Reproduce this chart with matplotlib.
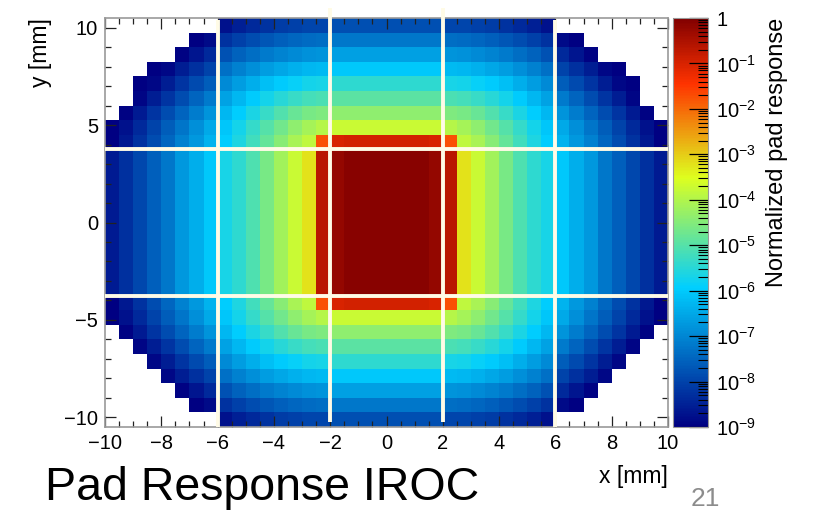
import numpy as np
import matplotlib
matplotlib.use('Agg')
import matplotlib.pyplot as plt
from matplotlib.colors import LinearSegmentedColormap, LogNorm
from matplotlib.ticker import LogLocator, NullFormatter

plt.rcParams['font.family'] = ['Liberation Sans', 'DejaVu Sans']
plt.rcParams['mathtext.fontset'] = 'custom'
plt.rcParams['mathtext.rm'] = 'Liberation Sans'
plt.rcParams['mathtext.default'] = 'regular'

nan = np.nan

# log10 of the normalized pad response for one quadrant (x >= 0, y >= 0).
# rows: y bins of 0.75 mm going up from y = 0, columns: x bins of 0.5 mm going right from x = 0
resp_quadrant = [
    [-0.08, -0.08, -0.08, -0.22, -0.66, -3.20, -3.75, -4.18, -4.63, -5.07, -5.42, -5.68, -6.03, -6.40, -6.75, -7.23, -7.58, -7.94, -8.29, -8.59],
    [-0.08, -0.08, -0.08, -0.22, -0.66, -3.20, -3.75, -4.18, -4.63, -5.07, -5.42, -5.68, -6.03, -6.40, -6.75, -7.23, -7.58, -7.94, -8.29, -8.59],
    [-0.08, -0.08, -0.08, -0.22, -0.66, -3.20, -3.75, -4.18, -4.63, -5.07, -5.42, -5.68, -6.03, -6.40, -6.75, -7.23, -7.58, -7.94, -8.29, -8.59],
    [-0.08, -0.08, -0.08, -0.22, -0.66, -3.20, -3.75, -4.18, -4.63, -5.07, -5.42, -5.68, -6.03, -6.40, -6.75, -7.23, -7.58, -7.94, -8.29, -8.59],
    [-0.08, -0.08, -0.08, -0.22, -0.66, -3.20, -3.75, -4.18, -4.63, -5.07, -5.42, -5.68, -6.03, -6.40, -6.75, -7.23, -7.58, -7.94, -8.29, -8.59],
    [-0.94, -0.94, -0.94, -1.00, -1.74, -3.84, -4.09, -4.46, -4.83, -5.21, -5.59, -5.96, -6.34, -6.72, -7.10, -7.48, -7.86, -8.24, -8.62, -9.00],
    [-3.75, -3.75, -3.75, -3.75, -3.97, -4.13, -4.38, -4.68, -5.01, -5.36, -5.71, -6.08, -6.50, -6.88, -7.25, -7.62, -8.00, -8.37, -8.74, -9.10],
    [-4.37, -4.37, -4.37, -4.37, -4.54, -4.63, -4.81, -5.05, -5.33, -5.63, -5.95, -6.29, -6.80, -7.15, -7.50, -7.86, -8.22, -8.58, -8.95, nan],
    [-4.95, -4.95, -4.95, -4.95, -5.10, -5.17, -5.31, -5.50, -5.73, -5.99, -6.28, -6.58, -7.20, -7.52, -7.86, -8.20, -8.55, -8.90, nan, nan],
    [-5.42, -5.42, -5.42, -5.42, -5.67, -5.73, -5.84, -5.99, -6.18, -6.41, -6.66, -6.93, -7.60, -7.90, -8.22, -8.55, -8.88, -9.20, nan, nan],
    [-6.03, -6.03, -6.03, -6.03, -6.24, -6.29, -6.38, -6.51, -6.67, -6.87, -7.09, -7.34, -8.00, -8.28, -8.57, -8.88, -9.19, nan, nan, nan],
    [-6.63, -6.63, -6.63, -6.63, -6.81, -6.85, -6.93, -7.04, -7.18, -7.35, -7.55, -7.77, -8.40, -8.67, -8.94, nan, nan, nan, nan, nan],
    [-7.23, -7.23, -7.23, -7.23, -7.38, -7.41, -7.48, -7.58, -7.70, -7.86, -8.04, -8.24, -8.85, -9.10, nan, nan, nan, nan, nan, nan],
    [-7.82, -7.82, -7.82, -7.82, -7.95, -7.98, -8.04, -8.12, -8.24, -8.38, -8.54, -8.72, nan, nan, nan, nan, nan, nan, nan, nan],
]

# upper / lower reach (|y| in mm) of the eight outer columns, from x = -10 inward
outer_top = [5.25, 6.0, 7.5, 8.25, 8.25, 9.0, 9.75, 9.75]
outer_bottom = [5.25, 6.0, 6.75, 7.5, 8.25, 9.0, 9.75, 9.75]

# pad boundaries (4 mm x 7.5 mm pads)
pad_x_inner = [-2, 2]
pad_x_outer = [-6, 6]
pad_y = [-3.75, 3.75]

q = np.array(resp_quadrant)
full = np.vstack([np.hstack([q[::-1, ::-1], q[::-1]]),
                  np.hstack([q[:, ::-1], q])])

x_edges = np.linspace(-10, 10, 41)
y_edges = np.linspace(-10.5, 10.5, 29)
xc = 0.5 * (x_edges[1:] + x_edges[:-1])
yc = 0.5 * (y_edges[1:] + y_edges[:-1])

top = np.full(40, 10.5)
bot = np.full(40, 10.5)
top[:8] = outer_top
top[32:] = outer_top[::-1]
bot[:8] = outer_bottom
bot[32:] = outer_bottom[::-1]
mask = (yc[:, None] > top[None, :]) | (yc[:, None] < -bot[None, :])
full[mask] = nan
z = 10.0 ** full

# ROOT-like rainbow palette
stops = [0.00, 0.34, 0.61, 0.84, 1.00]
red = [0.00, 0.00, 0.87, 1.00, 0.51]
green = [0.00, 0.81, 1.00, 0.20, 0.00]
blue = [0.51, 1.00, 0.12, 0.00, 0.00]
cmap = LinearSegmentedColormap('root_rainbow', {
    'red': [(s, c, c) for s, c in zip(stops, red)],
    'green': [(s, c, c) for s, c in zip(stops, green)],
    'blue': [(s, c, c) for s, c in zip(stops, blue)],
}, N=256)

fig = plt.figure(figsize=(8.15, 5.12), dpi=100)
ax = fig.add_axes([105 / 815, 85 / 512, 563 / 815, 409 / 512])
mesh = ax.pcolormesh(x_edges, y_edges, z, cmap=cmap, norm=LogNorm(1e-9, 1),
                     shading='flat', edgecolors='none')
ax.set_xlim(-10, 10)
ax.set_ylim(-10.5, 10.5)

ax.set_xticks(np.arange(-10, 11, 2))
ax.set_xticks(np.arange(-10, 10.1, 0.5), minor=True)
ax.set_yticks([-10, -5, 0, 5, 10])
ax.set_yticks(np.arange(-10, 10.1, 1), minor=True)
ax.tick_params(which='both', direction='in', top=True, right=True,
               labelsize=14.5, color='#222222')
ax.tick_params(which='major', length=8, width=0.9, pad=5)
ax.tick_params(which='minor', length=4.5, width=0.9)
for sp in ax.spines.values():
    sp.set_color('#999999')
    sp.set_linewidth(1.2)

# pad outlines
line_col = '#fffbe6'
for x0 in pad_x_inner:
    ax.plot([x0, x0], [-10.25, 11.0], color=line_col, lw=2.8,
            clip_on=False, solid_capstyle='butt', zorder=3)
for x0 in pad_x_outer:
    ax.plot([x0, x0], [-10.5, 10.4], color=line_col, lw=2.8,
            clip_on=False, solid_capstyle='butt', zorder=3)
for y0 in pad_y:
    ax.plot([-10, 10], [y0, y0], color=line_col, lw=2.8,
            solid_capstyle='butt', zorder=3)

# palette axis
cax = fig.add_axes([673 / 815, 85 / 512, 35 / 815, 409 / 512])
cb = fig.colorbar(mesh, cax=cax)
cb.outline.set_edgecolor('#999999')
cb.set_ticks(10.0 ** np.arange(-9, 1))
cb.set_ticklabels([f'$10^{{{k}}}$' for k in range(-9, 0)] + ['1'])
cax.yaxis.set_minor_locator(LogLocator(base=10, subs=np.arange(2, 10)))
cax.yaxis.set_minor_formatter(NullFormatter())
cax.tick_params(which='both', direction='in', right=True, left=False, color='black')
cax.tick_params(which='major', length=13.5, width=0.9, pad=6, labelsize=14.5)
cax.tick_params(which='minor', length=7, width=0.8)

fig.text(40 / 815, 1 - 18 / 512, 'y [mm]', rotation=90, ha='center', va='top', fontsize=16.5)
fig.text(668 / 815, 1 - 483 / 512, 'x [mm]', ha='right', va='baseline', fontsize=16.5)
fig.text(777 / 815, 1 - 18 / 512, 'Normalized pad response', rotation=90,
         ha='center', va='top', fontsize=17)
fig.text(45 / 815, 1 - 500 / 512, 'Pad Response IROC', ha='left', va='baseline', fontsize=33.5)
fig.text(705 / 815, 1 - 506 / 512, '21', ha='center', va='baseline', fontsize=19, color='#8c8c8c')

fig.savefig('out.png', dpi=100)
